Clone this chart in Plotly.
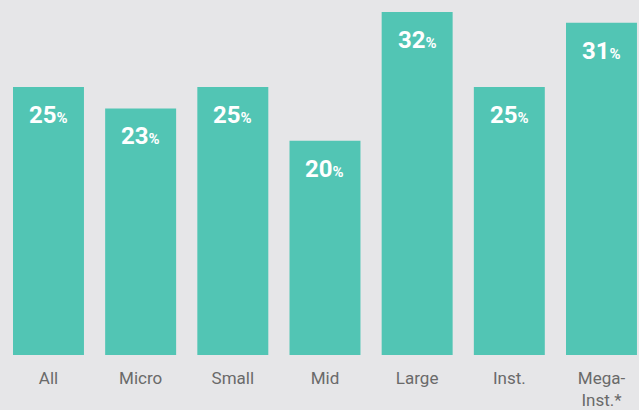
import plotly.graph_objects as go

categories = ["All", "Micro", "Small", "Mid", "Large", "Inst.", "Mega-<br>Inst.*"]
values = [25, 23, 25, 20, 32, 25, 31]

BAR = "#52c5b4"
BG = "#e6e6e8"

fig = go.Figure()
fig.add_trace(go.Bar(x=list(range(len(categories))), y=values, marker_color=BAR,
                     marker_line_width=0, width=0.77, hoverinfo="skip"))

for i, v in enumerate(values):
    fig.add_annotation(x=i, y=v, yanchor="middle", yshift=-28, showarrow=False,
                       text=f"<b>{v}</b><span style='font-size:15px'><b>%</b></span>",
                       font=dict(family="Roboto", size=24, color="white"))

fig.update_layout(
    width=639, height=410,
    margin=dict(l=0, r=0, t=12, b=55),
    paper_bgcolor=BG, plot_bgcolor=BG,
    showlegend=False,
    xaxis=dict(range=[-0.526, 6.407], tickmode="array",
               tickvals=list(range(len(categories))), ticktext=categories,
               showgrid=False, zeroline=False, showline=False, ticks="",
               tickfont=dict(family="Roboto", size=17, color="#6a6a6a"),
               ticklabelstandoff=11),
    yaxis=dict(range=[0, 32], visible=False, showgrid=False, zeroline=False),
)

fig.write_html("out.html")
